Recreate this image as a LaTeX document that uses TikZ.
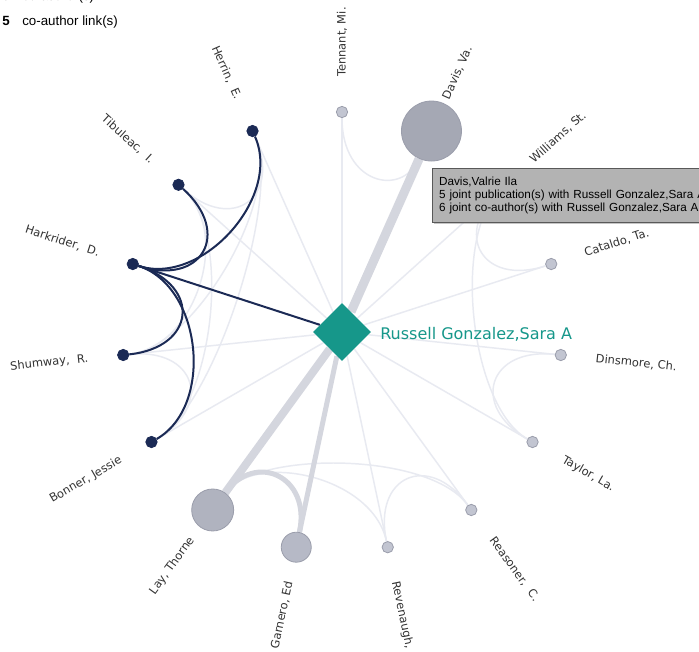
\documentclass[tikz,border=0pt]{standalone}
\usepackage{fontspec}
\setmainfont{DejaVu Sans}
\newfontfamily\uifont{Liberation Sans}
\usetikzlibrary{shapes.geometric,calc,backgrounds,shadows}

\definecolor{navy}{HTML}{1B2A55}
\definecolor{hubteal}{HTML}{16978A}
\definecolor{linkgray}{HTML}{E8EAF1}
\definecolor{heavygray}{HTML}{D4D6DE}
\definecolor{nodegray}{HTML}{C2C5D1}
\definecolor{rimgray}{HTML}{9A9DAB}
\definecolor{tipgray}{HTML}{B3B3B3}

\tikzset{%
    hub/.style = {
        diamond, fill=hubteal, inner sep=0pt,
        minimum width=43.5pt, minimum height=43.5pt
    },
    coauth/.style = {
        circle, draw=rimgray, fill=nodegray, line width=0.6pt,
        inner sep=0pt, minimum size=8.5pt
    },
    linked/.style = {coauth, draw=navy, fill=navy},
    davisnode/.style = {coauth, minimum size=45pt, fill={rgb,255:red,165;green,168;blue,180}},
    laynode/.style = {coauth, minimum size=31.5pt, fill={rgb,255:red,176;green,179;blue,191}},
    garneronode/.style = {coauth, minimum size=22.5pt, fill={rgb,255:red,182;green,185;blue,198}},
    tag/.style = {inner sep=0pt, text=black!80, font=\fontsize{8.6}{10}\selectfont},
    thinlink/.style = {draw=linkgray, line width=1.1pt},
    darklink/.style = {draw=navy, line width=1.5pt},
    heavylink/.style = {draw=heavygray, line width=#1},
    legend/.style = {inner sep=0pt, font=\uifont\fontsize{10}{12}\selectfont},
    tooltip/.style = {
        draw=black!65, fill=tipgray, line width=0.6pt, anchor=north west,
        inner xsep=5pt, inner ysep=3pt, text width=260pt, align=left,
        minimum height=40.5pt, font=\uifont\fontsize{8.8}{9.75}\selectfont,
        drop shadow={shadow xshift=1.5pt, shadow yshift=-1.5pt, opacity=0.45}
    },
}

% co-author link, bent towards the centre
\newcommand{\bundle}[3][thinlink]{%
    \draw[#1] (#2) .. controls ($(#2)!0.33!(ctr)$) and ($(#3)!0.33!(ctr)$) .. (#3);}

\begin{document}
\begin{tikzpicture}[x=0.75pt, y=0.75pt]
    \useasboundingbox (-342,-319) rectangle (357,332);

    % Nodes position
    \node (ctr) [hub] at (0,0) {};
    \node (ctr-name) [anchor=base west, inner sep=0pt, text=hubteal,
                      font=\fontsize{12}{14}\selectfont] at (38,-7)
                            {Russell Gonzalez,Sara A};

    \foreach \nm/\kind/\txt [count=\i from 0] in {
        tennant/coauth/{Tennant, Mi.},
        davis/davisnode/{Davis, Va.},
        williams/coauth/{Williams, St.},
        cataldo/coauth/{Cataldo, Ta.},
        dinsmore/coauth/{Dinsmore, Ch.},
        taylor/coauth/{Taylor, La.},
        reasoner/coauth/{Reasoner,~ C.},
        revenaugh/coauth/{Revenaugh,},
        garnero/garneronode/{Garnero, Ed},
        lay/laynode/{Lay, Thorne},
        bonner/linked/{Bonner, Jessie},
        shumway/linked/{Shumway,~ R.},
        harkrider/linked/{Harkrider,~ D.},
        tibuleac/linked/{Tibuleac,~ I.},
        herrin/linked/{Herrin,~ E.}}
    {
        \pgfmathsetmacro\ang{90-24*\i}
        \pgfmathtruncatemacro\side{cos(\ang)>-0.01 ? 1 : 0}
        \node (\nm) [\kind] at (\ang:220) {};
        \ifnum\side=1
            \node (\nm-name) [tag, anchor=west, rotate=\ang] at (\ang:255) {\txt};
        \else
            \node (\nm-name) [tag, anchor=east, rotate=\ang+180] at (\ang:255) {\txt};
        \fi
    }

    % Legend
    \node (total)     [legend, anchor=base east, font=\uifont\bfseries\fontsize{10}{12}\selectfont]
                            at (-332,331.5) {15};
    \node (total-txt) [legend, anchor=base west] at (-320,331.5) {co-author(s)};
    \node (links)     [legend, anchor=base east, font=\uifont\bfseries\fontsize{10}{12}\selectfont]
                            at (-332,307) {5};
    \node (links-txt) [legend, anchor=base west] at (-320,307) {co-author link(s)};

    % Links specification
    \begin{pgfonlayer}{background}
        \fill[white] (-342,-319) rectangle (357,332);
        \foreach \nm in {tennant,williams,cataldo,dinsmore,taylor,reasoner,
                         revenaugh,bonner,shumway,tibuleac,herrin}
            \draw[thinlink] (ctr) -- (\nm);
        \bundle{tennant}{davis}
        \bundle{williams}{cataldo}
        \bundle{williams}{taylor}
        \bundle{dinsmore}{taylor}
        \bundle{lay}{revenaugh}
        \bundle{lay}{reasoner}
        \bundle{revenaugh}{reasoner}
        \bundle{tibuleac}{herrin}
        \bundle{shumway}{bonner}
        \bundle{herrin}{shumway}
        \bundle{herrin}{bonner}
        \bundle{tibuleac}{shumway}
        \bundle{tibuleac}{bonner}
        \draw[heavylink=6.75pt] (ctr) -- (davis);
        \draw[heavylink=6pt]    (ctr) -- (lay);
        \draw[heavylink=3.75pt] (ctr) -- (garnero);
        \bundle[heavylink=3.75pt]{lay}{garnero}
        \draw[darklink] (ctr) -- (harkrider);
        \bundle[darklink]{harkrider}{herrin}
        \bundle[darklink]{harkrider}{tibuleac}
        \bundle[darklink]{harkrider}{shumway}
        \bundle[darklink]{harkrider}{bonner}
    \end{pgfonlayer}

    % Hover box
    \node (tip) [tooltip] at (90,164)
        {Davis,Valrie Ila\\
         5 joint publication(s) with Russell Gonzalez,Sara A\\
         6 joint co-author(s) with Russell Gonzalez,Sara A};
\end{tikzpicture}
\end{document}
